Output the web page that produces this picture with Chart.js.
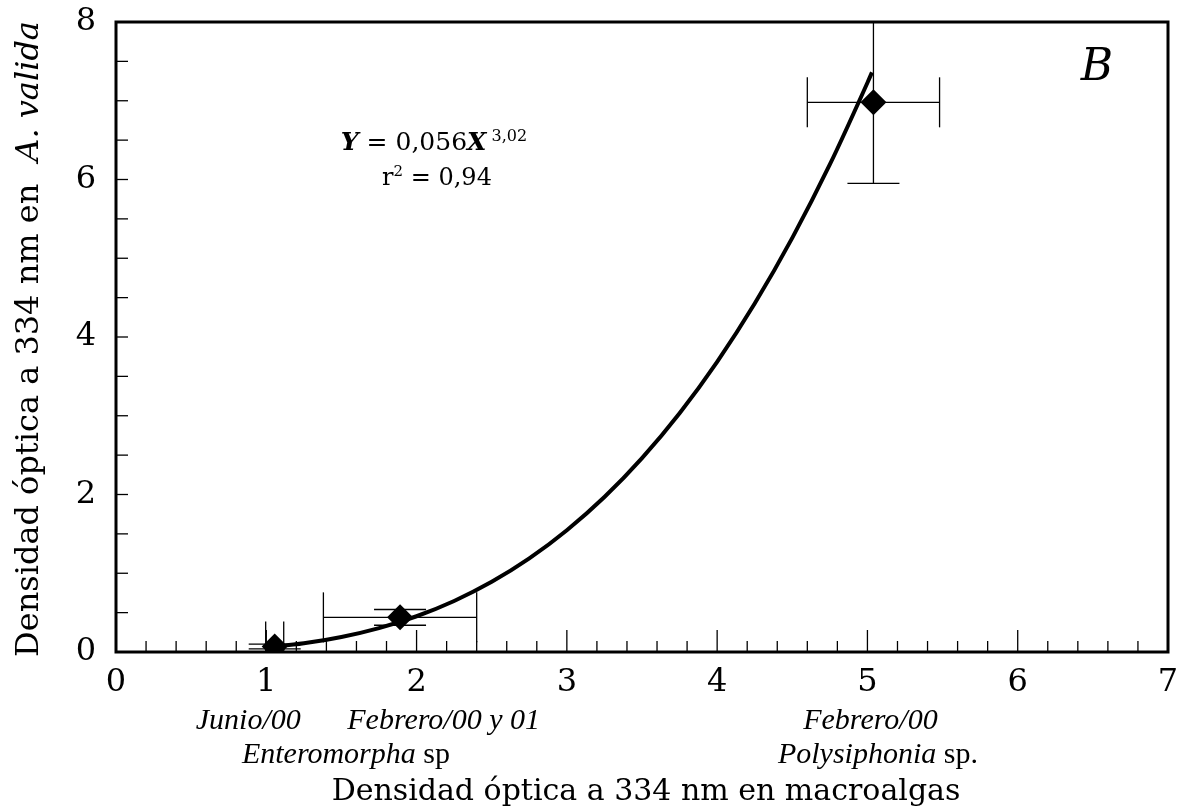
<!DOCTYPE html>
<html><head><meta charset="utf-8">
<script src="https://cdn.jsdelivr.net/npm/chart.js@4.4.0/dist/chart.umd.min.js"></script>
<style>html,body{margin:0;padding:0;background:#fff}#wrap{width:1189px;height:812px;position:relative}</style>
</head><body><div id="wrap"><canvas id="c"></canvas></div>
<script>
// ---- data ----
const pointX = [1.056, 1.89, 5.04];
const pointY = [0.07, 0.44, 6.98];
const errX = [0.06, 0.51, 0.44];
const errY = [0.03, 0.10, 1.03];
const curveX = [1.0, 1.25, 1.5, 1.75, 2.0, 2.25, 2.5, 2.75, 3.0, 3.25, 3.5, 3.75, 4.0, 4.25, 4.5, 4.75, 5.0, 5.03];
const curveY = [0.056, 0.110, 0.191, 0.304, 0.454, 0.648, 0.891, 1.188, 1.546, 1.968, 2.462, 3.032, 3.685, 4.425, 5.259, 6.191, 7.229, 7.36];
const xTickValues = [0, 1, 2, 3, 4, 5, 6, 7];
const yTickValues = [0, 2, 4, 6, 8];
const xTitle = "Densidad óptica a 334 nm en macroalgas";
const yTitleNormal = "Densidad óptica a 334 nm en";
const yTitleItalic = "A. valida";
const panelLabel = "B";
const sampleLabelX = [0.88, 2.18, 1.53, 5.02, 5.07];
const sampleLabelRow = [0, 0, 1, 0, 1];
const sampleLabelText = [
  [["Junio/00", "italic"]],
  [["Febrero/00 y 01", "italic"]],
  [["Enteromorpha", "italic"], [" sp", "normal"]],
  [["Febrero/00", "italic"]],
  [["Polysiphonia", "italic"], [" sp.", "normal"]]
];

const SERIF = '"DejaVu Serif", serif';
const TIMES = '"Liberation Serif", "Times New Roman", serif';

const decor = {
  id: 'decor',
  beforeDatasetsDraw(chart) {
    const { ctx, chartArea: a, scales: { x, y } } = chart;
    ctx.save();
    ctx.beginPath();
    ctx.rect(a.left, a.top, a.right - a.left, a.bottom - a.top);
    ctx.clip();
    ctx.strokeStyle = '#000';
    ctx.lineWidth = 1.3;
    const line = (x1, y1, x2, y2) => { ctx.beginPath(); ctx.moveTo(x1, y1); ctx.lineTo(x2, y2); ctx.stroke(); };
    for (let i = 0; i < pointX.length; i++) {
      const px = x.getPixelForValue(pointX[i]);
      const py = y.getPixelForValue(pointY[i]);
      const xl = x.getPixelForValue(pointX[i] - errX[i]);
      const xr = x.getPixelForValue(pointX[i] + errX[i]);
      const yt = y.getPixelForValue(pointY[i] + errY[i]);
      const yb = y.getPixelForValue(pointY[i] - errY[i]);
      line(xl, py, xr, py);
      line(xl, py - 25, xl, py + 25);
      line(xr, py - 25, xr, py + 25);
      line(px, yt, px, yb);
      line(px - 26, yt, px + 26, yt);
      line(px - 26, yb, px + 26, yb);
    }
    // inward tick marks
    for (let k = 1; k < 35; k++) {
      const px = x.getPixelForValue(k * 0.2);
      const len = (k % 5 === 0) ? 22 : 11;
      line(px, a.bottom, px, a.bottom - len);
    }
    for (let k = 1; k < 16; k++) {
      const py = y.getPixelForValue(k * 0.5);
      line(a.left, py, a.left + 12, py);
    }
    ctx.restore();
  },
  afterDatasetsDraw(chart) {
    const { ctx, chartArea: a, scales: { x, y } } = chart;
    ctx.save();
    ctx.strokeStyle = '#000';
    ctx.lineWidth = 3;
    ctx.strokeRect(a.left, a.top, a.right - a.left, a.bottom - a.top);
    ctx.fillStyle = '#000';
    ctx.textBaseline = 'alphabetic';

    // panel label
    ctx.font = 'italic 44px ' + SERIF;
    ctx.textAlign = 'center';
    ctx.fillText(panelLabel, 1097, 80);

    const drawRuns = (runs, cx, base) => {
      let total = 0;
      runs.forEach(r => { ctx.font = r[1]; r.w = ctx.measureText(r[0]).width; total += r.w; });
      let xx = cx - total / 2;
      ctx.textAlign = 'left';
      runs.forEach(r => { ctx.font = r[1]; ctx.fillText(r[0], xx, base + (r[2] || 0)); xx += r.w; });
    };
    // equation
    drawRuns([
      ['Y', 'italic bold 25px ' + SERIF],
      [' = 0,056', '25px ' + SERIF],
      ['X', 'italic bold 25px ' + SERIF],
      [' 3,02', '16px ' + SERIF, -9]
    ], 434, 150);
    drawRuns([
      ['r', '24px ' + SERIF],
      ['2', '15px ' + SERIF, -9],
      [' = 0,94', '24px ' + SERIF]
    ], 437, 185);

    // sample labels under x axis
    for (let i = 0; i < sampleLabelX.length; i++) {
      const runs = sampleLabelText[i].map(p => [p[0], (p[1] === 'italic' ? 'italic ' : '') + '30px ' + TIMES]);
      drawRuns(runs, x.getPixelForValue(sampleLabelX[i]), 729 + sampleLabelRow[i] * 34);
    }

    // x title
    ctx.font = '30px ' + SERIF;
    ctx.textAlign = 'center';
    ctx.fillText(xTitle, (a.left + a.right) / 2 + 4, 800);

    // y title
    ctx.translate(38, (a.top + a.bottom) / 2 + 2);
    ctx.rotate(-Math.PI / 2);
    ctx.font = '32px ' + SERIF;
    const w1 = ctx.measureText(yTitleNormal).width;
    ctx.font = 'italic 32px ' + SERIF;
    const w2 = ctx.measureText(yTitleItalic).width;
    const gap = 22;
    const tot = w1 + gap + w2;
    ctx.textAlign = 'left';
    ctx.font = '32px ' + SERIF;
    ctx.fillText(yTitleNormal, -tot / 2, 0);
    ctx.font = 'italic 32px ' + SERIF;
    ctx.fillText(yTitleItalic, -tot / 2 + w1 + gap, 0);
    ctx.restore();
  }
};

new Chart(document.getElementById('c'), {
  type: 'scatter',
  data: {
    datasets: [
      {
        label: 'points',
        data: pointX.map((v, i) => ({ x: v, y: pointY[i] })),
        pointStyle: 'rectRot',
        pointRadius: 13,
        pointHoverRadius: 13,
        backgroundColor: '#000',
        borderColor: '#000',
        borderWidth: 0,
        showLine: false,
        order: 0
      },
      {
        label: 'fit',
        data: curveX.map((v, i) => ({ x: v, y: curveY[i] })),
        showLine: true,
        pointRadius: 0,
        borderColor: '#000',
        borderWidth: 4,
        cubicInterpolationMode: 'monotone',
        fill: false,
        order: 1
      }
    ]
  },
  options: {
    responsive: true,
    maintainAspectRatio: false,
    animation: false,
    events: [],
    layout: { padding: { top: 22, right: 21, left: 0, bottom: 0 } },
    plugins: { legend: { display: false }, tooltip: { enabled: false } },
    scales: {
      x: {
        type: 'linear', min: 0, max: 7,
        afterBuildTicks: s => { s.ticks = xTickValues.map(v => ({ value: v })); },
        afterFit: s => { s.height = 160; s.paddingLeft = 0; s.paddingRight = 0; },
        grid: { display: false, drawTicks: false },
        border: { display: false },
        ticks: { color: '#000', font: { family: SERIF, size: 32 }, padding: 11, maxRotation: 0 }
      },
      y: {
        type: 'linear', min: 0, max: 8,
        afterBuildTicks: s => { s.ticks = yTickValues.map(v => ({ value: v })); },
        afterFit: s => { s.width = 116; s.paddingTop = 0; s.paddingBottom = 0; },
        grid: { display: false, drawTicks: false },
        border: { display: false },
        ticks: { color: '#000', font: { family: SERIF, size: 32 }, padding: 20 }
      }
    }
  },
  plugins: [decor]
});
</script></body></html>
